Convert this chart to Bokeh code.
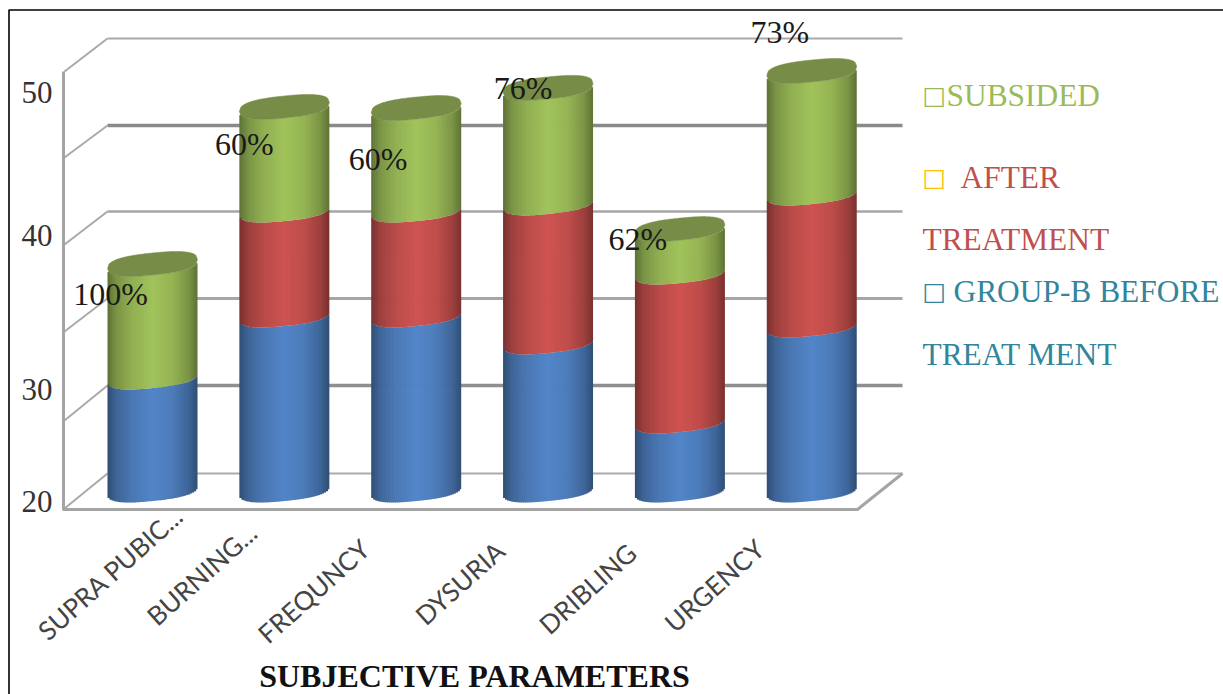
import math
import numpy as np
from bokeh.core.properties import value
from bokeh.embed import file_html
from bokeh.models import ColumnDataSource, FixedTicker, Range1d
from bokeh.plotting import figure
from bokeh.resources import INLINE

# Chart data
categories = ["SUPRA PUBIC...", "BURNING...", "FREQUNCY", "DYSURIA", "DRIBLING", "URGENCY"]
before_treatment = [8.29, 12.84, 12.84, 10.86, 5.06, 12.11]
after_treatment = [0.0, 7.70, 7.70, 10.20, 10.93, 9.68]
subsided = [8.29, 7.56, 7.48, 8.44, 3.15, 8.95]
percent_labels = ["100%", "60%", "60%", "76%", "62%", "73%"]
y_labels = ["20", "30", "40", "50"]

# Page geometry, in window pixels
W, H = 1223, 694
BAR0, BAR_STEP, BAR_HALF = 152.0, 131.85, 45.0
Y20, PX_PER_UNIT = 502.0, 13.63
ELL_RY, ELL_TILT, ELL_POWER = 11.0, 4.5, 2.6


def vx(px):
    return (px - BAR0) / BAR_STEP


def vy(py):
    return 20 + (Y20 - py) / PX_PER_UNIT


def rim(u):
    # Half height of the cylinder's rounded rim at relative position u
    return ELL_RY * (1 - np.abs(u) ** ELL_POWER) ** (1 / ELL_POWER)


ELL_LOW = float(np.max(rim(np.linspace(-1, 1, 401)) - ELL_TILT * np.linspace(-1, 1, 401)))

p = figure(
    width=W, height=H, output_backend="svg", toolbar_location=None,
    x_range=Range1d(vx(0), vx(W)), y_range=Range1d(vy(H), vy(0)),
    x_axis_location=None, min_border=0, outline_line_color=None,
)
p.grid.visible = False
p.background_fill_color = "white"

# Outer page rule
p.line([vx(8.5), vx(8.5), vx(W)], [vy(H), vy(9.5), vy(9.5)], line_color="black", line_width=1.6)

# Back wall, side wall and floor of the 3D box
WALL_Y = [38, 125, 211, 298, 385, 473]
WALL_W = [2.2, 3.4, 2.6, 2.8, 3.4, 2.2]
WALL_C = ["#a9a9a9", "#8a8a8a", "#a6a6a6", "#a6a6a6", "#8f8f8f", "#ababab"]
SIDE_Y = [71, 157, 244, 331, 420, 508]
for yb, yf, lw, col in zip(WALL_Y, SIDE_Y, WALL_W, WALL_C):
    p.line([vx(107), vx(902)], [vy(yb), vy(yb)], line_color=col, line_width=lw)
    p.line([vx(64), vx(107)], [vy(yf), vy(yb)], line_color="#a9a9a9", line_width=2)
p.line([vx(62), vx(857), vx(902)], [vy(509), vy(509), vy(473)], line_color="#a4a4a4", line_width=3)

# Value axis, placed on the side wall
axis = p.yaxis[0]
axis.fixed_location = vx(63)
axis.bounds = (vy(509), vy(71))
axis.ticker = FixedTicker(ticks=[vy(501), vy(389), vy(235), vy(92)])
axis.major_label_overrides = {t: s for t, s in zip(axis.ticker.ticks, y_labels)}
axis.axis_line_color = "#a4a4a4"
axis.axis_line_width = 3
axis.major_tick_line_color = None
axis.minor_tick_line_color = None
axis.major_label_standoff = 5
axis.major_label_text_font = "Liberation Serif"
axis.major_label_text_font_size = "31px"
axis.major_label_text_color = "#333333"


def shade(base, u):
    f = np.interp(u, [-1, -0.8, -0.45, 0.0, 0.45, 0.8, 1],
                  [0.58, 0.76, 0.90, 1.0, 0.92, 0.76, 0.58])
    return "#%02x%02x%02x" % tuple(int(round(c * f)) for c in base)


def front_edge(level, u):
    # Front rim of a cylinder slice whose lowest rim point sits at `level`
    return level + (ELL_LOW + ELL_TILT * u - rim(u)) / PX_PER_UNIT


BLUE, RED, GREEN = (82, 133, 200), (206, 83, 80), (161, 195, 91)
CAP = "#778c46"
du = 2.0 / 45
us = np.arange(-1, 1, du)
strips = dict(left=[], right=[], top=[], bottom=[], color=[])

for i in range(len(categories)):
    b0 = 20.0
    b1 = b0 + before_treatment[i]
    b2 = b1 + after_treatment[i]
    b3 = b2 + subsided[i]
    for lo, hi, base in ((b0, b1, BLUE), (b1, b2, RED), (b2, b3, GREEN)):
        if hi <= lo:
            continue
        for u in us:
            um = min(u + du / 2, 1.0)
            strips["left"].append(i + u * BAR_HALF / BAR_STEP)
            strips["right"].append(i + min(u + du * 1.35, 1.0) * BAR_HALF / BAR_STEP)
            strips["bottom"].append(front_edge(lo, um))
            strips["top"].append(front_edge(hi, um))
            strips["color"].append(shade(base, um))

p.quad(left="left", right="right", top="top", bottom="bottom", fill_color="color",
       line_color=None, source=ColumnDataSource(strips))

# Dark rounded caps
cap_u = np.linspace(-1, 1, 61)
for i in range(len(categories)):
    top = 20.0 + before_treatment[i] + after_treatment[i] + subsided[i]
    lower = top + (ELL_LOW + ELL_TILT * cap_u - rim(cap_u)) / PX_PER_UNIT
    upper = top + (ELL_LOW + ELL_TILT * cap_u + rim(cap_u)) / PX_PER_UNIT
    xs = i + BAR_HALF / BAR_STEP * np.concatenate([cap_u, cap_u[::-1]])
    ys = np.concatenate([lower, upper[::-1]])
    p.patch(xs, ys, fill_color=CAP, line_color=CAP, line_width=0.5)

# Percentage labels beside each cylinder top
tops = [20.0 + a + b + c for a, b, c in zip(before_treatment, after_treatment, subsided)]
p.text(
    x=list(range(6)), y=tops, text=percent_labels,
    x_offset=[-42, -40, -38, -25, -42, -32], y_offset=[17, 25, 38, -12, -3, -52],
    text_font=value("Liberation Serif"), text_font_size="32px", text_color="#1a1a1a",
    text_align="center", text_baseline="middle",
)

# Slanted category labels
p.text(
    x=list(range(6)), y=[20.0] * 6, text=categories, angle=math.radians(42),
    x_offset=[26, -32, -51, -48, -48, -52], y_offset=[9, 26, 42, 44, 46, 42],
    text_font=value("Lato"), text_font_size="26px", text_color="#444444",
    text_align="right", text_baseline="middle",
)

# Axis title
p.text(
    x=[vx(474)], y=[vy(675)], text=["SUBJECTIVE PARAMETERS"],
    text_font=value("Liberation Serif"), text_font_style="bold", text_font_size="32px",
    text_color="#111111", text_align="center", text_baseline="middle",
)

# Legend text and its open boxes
GREEN_T, RED_T, TEAL_T, AMBER = "#9bbb59", "#c0504d", "#31859c", "#ffc000"
legend_text = ["SUBSIDED", "AFTER", "TREATMENT", "GROUP-B BEFORE", "TREAT MENT"]
legend_x = [946, 960, 922, 953, 922]
legend_y = [94.5, 176.5, 238.5, 290.5, 353.5]
legend_c = [GREEN_T, RED_T, RED_T, TEAL_T, TEAL_T]
p.text(
    x=[vx(a) for a in legend_x], y=[vy(b) for b in legend_y], text=legend_text,
    text_color=legend_c, text_font=value("Liberation Serif"), text_font_size="31.4px",
    text_align="left", text_baseline="middle",
)
box_y = [95, 177, 291]
box_c = [GREEN_T, AMBER, TEAL_T]
p.text(
    x=[vx(922)] * 3, y=[vy(b) for b in box_y], text=["\u25a1"] * 3,
    text_color=box_c, text_font=value("DejaVu Sans"), text_font_size="25px",
    text_align="left", text_baseline="middle",
)

open("out.html", "w").write(file_html(p, INLINE))
